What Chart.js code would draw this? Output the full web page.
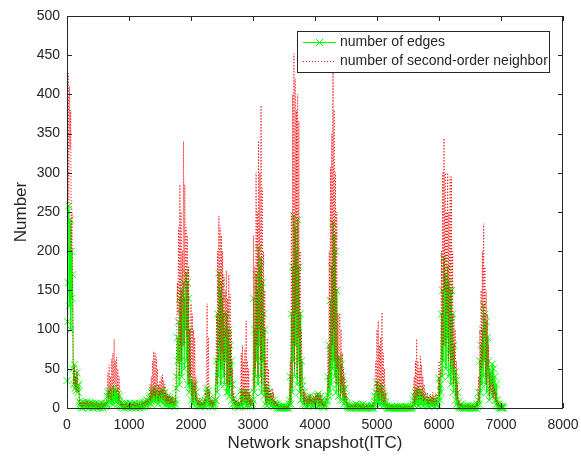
<!DOCTYPE html>
<html>
<head>
<meta charset="utf-8">
<script src="https://cdn.jsdelivr.net/npm/chart.js@4.4.0/dist/chart.umd.min.js"></script>
<style>
  html, body { margin: 0; padding: 0; background: #fff; }
  #wrap { width: 581px; height: 458px; }
</style>
</head>
<body>
<div id="wrap"><canvas id="chart" width="581" height="458"></canvas></div>
<script>
// snapshots are sampled every 10 ITC, starting at 0
const snapshotStep = 10;

// number of edges, one row per 200 snapshots
const edgeCounts = [
    35, 110, 160, 258, 130, 240, 100, 200, 140, 170, 50, 30, 55, 25, 40, 22, 45, 28, 20, 30,   // 0
    8, 3, 6, 1, 5, 0, 7, 2, 4, 6, 1, 3, 8, 2, 5, 0, 4, 7, 2, 5,                               // 200
    3, 6, 0, 4, 5, 2, 1, 6, 3, 0, 2, 5, 1, 4, 0, 3, 6, 2, 0, 4,                               // 400
    3, 5, 2, 6, 4, 15, 20, 8, 22, 12, 18, 6, 24, 10, 20, 5, 25, 12, 20, 8,                    // 600
    22, 10, 18, 5, 15, 8, 4, 2, 6, 1, 5, 3, 0, 4, 2, 6, 1, 3, 0, 2,                           // 800
    4, 1, 6, 3, 0, 5, 2, 4, 1, 6, 3, 0, 5, 2, 4, 1, 3, 6, 0, 2,                               // 1000
    3, 6, 1, 4, 7, 2, 5, 8, 3, 10, 4, 8, 6, 12, 15, 5, 20, 8, 22, 10,                         // 1200
    25, 10, 20, 8, 22, 12, 18, 5, 15, 10, 20, 8, 24, 12, 22, 6, 18, 10, 20, 5,                // 1400
    12, 3, 15, 6, 10, 2, 14, 5, 8, 3, 12, 4, 6, 2, 10, 5, 25, 40, 90, 60,                     // 1600
    110, 30, 140, 60, 150, 40, 120, 80, 160, 50, 140, 100, 172, 60, 160, 30, 140, 20, 100, 30, // 1800
    35, 10, 30, 5, 28, 12, 30, 8, 20, 5, 8, 3, 6, 2, 8, 4, 2, 6, 3, 5,                        // 2000
    3, 8, 2, 10, 5, 20, 25, 8, 22, 5, 12, 2, 6, 3, 8, 1, 5, 3, 6, 10,                         // 2200
    10, 60, 20, 120, 40, 172, 60, 150, 30, 160, 50, 140, 40, 120, 30, 100, 60, 120, 20, 90,   // 2400
    20, 100, 15, 80, 30, 60, 10, 30, 5, 12, 3, 6, 2, 8, 4, 3, 1, 6, 2, 4,                     // 2600
    5, 22, 3, 18, 10, 20, 5, 15, 8, 20, 2, 12, 5, 18, 3, 10, 2, 8, 4, 6,                      // 2800
    10, 140, 20, 100, 40, 170, 60, 150, 30, 204, 80, 180, 40, 190, 20, 160, 60, 120, 15, 100, // 3000
    5, 28, 3, 25, 8, 20, 5, 15, 10, 12, 3, 8, 5, 10, 2, 6, 3, 5, 1, 4,                        // 3200
    2, 0, 1, 0, 2, 0, 1, 0, 0, 1, 0, 2, 0, 1, 0, 0, 2, 0, 5, 10,                              // 3400
    40, 5, 120, 20, 180, 60, 245, 40, 230, 80, 200, 30, 240, 60, 180, 20, 120, 10, 60, 35,    // 3600
    28, 5, 20, 3, 12, 8, 10, 2, 8, 5, 12, 3, 15, 6, 10, 3, 8, 12, 4, 10,                      // 3800
    3, 12, 5, 15, 8, 18, 2, 12, 5, 15, 3, 10, 2, 6, 1, 4, 2, 5, 8, 10,                        // 4000
    10, 40, 15, 80, 20, 137, 30, 180, 50, 236, 60, 220, 40, 200, 20, 150, 30, 64, 15, 50,     // 4200
    64, 10, 55, 20, 40, 10, 30, 5, 25, 8, 15, 3, 6, 1, 3, 0, 2, 1, 0, 2,                      // 4400
    0, 2, 1, 0, 3, 0, 5, 1, 0, 2, 4, 0, 1, 3, 0, 2, 0, 5, 1, 0,                               // 4600
    0, 1, 0, 3, 0, 2, 1, 0, 2, 0, 1, 3, 0, 2, 0, 5, 8, 15, 20, 10,                            // 4800
    32, 8, 25, 5, 20, 10, 30, 5, 25, 8, 20, 3, 15, 5, 8, 2, 3, 0, 1, 0,                       // 5000
    0, 1, 0, 0, 2, 0, 0, 1, 0, 0, 1, 0, 2, 0, 0, 1, 0, 0, 2, 0,                               // 5200
    0, 0, 1, 0, 0, 2, 0, 0, 1, 0, 2, 0, 0, 1, 0, 0, 2, 0, 5, 10,                              // 5400
    15, 3, 20, 5, 24, 8, 20, 3, 18, 10, 22, 5, 18, 8, 15, 3, 12, 5, 10, 8,                    // 5600
    5, 10, 3, 8, 2, 6, 10, 4, 8, 3, 12, 5, 8, 2, 6, 10, 3, 5, 8, 15,                          // 5800
    38, 10, 30, 20, 120, 40, 150, 60, 191, 80, 170, 50, 160, 90, 180, 40, 160, 70, 150, 30,   // 6000
    150, 46, 120, 20, 80, 35, 46, 10, 35, 5, 20, 2, 8, 0, 3, 1, 5, 0, 2, 1,                   // 6200
    0, 1, 0, 2, 0, 1, 0, 3, 0, 1, 2, 0, 1, 0, 3, 0, 1, 0, 2, 0,                               // 6400
    0, 5, 2, 10, 20, 5, 60, 20, 80, 30, 100, 40, 131, 60, 120, 30, 110, 20, 90, 40,           // 6600
    60, 10, 50, 20, 45, 30, 56, 15, 50, 20, 40, 10, 30, 5, 10, 2, 5, 0, 3, 1,                 // 6800
    0, 2, 0, 1, 0                                                                            // 7000
];

// number of second-order neighbor, same sampling
const neighborCounts = [
    40, 300, 427, 260, 410, 330, 380, 200, 250, 150, 60, 30, 55, 25, 40, 20, 50, 30, 20, 25,
    10, 4, 8, 2, 6, 1, 9, 3, 5, 8, 2, 4, 10, 3, 6, 1, 5, 9, 3, 6,
    4, 7, 1, 5, 6, 3, 2, 8, 4, 1, 3, 6, 2, 5, 1, 4, 7, 3, 1, 5,
    4, 6, 3, 7, 5, 25, 45, 12, 55, 20, 40, 10, 62, 25, 70, 15, 88, 30, 60, 20,
    65, 20, 50, 10, 40, 15, 6, 3, 8, 2, 6, 4, 1, 5, 3, 7, 2, 4, 1, 3,
    5, 2, 7, 4, 1, 6, 3, 5, 2, 7, 4, 1, 6, 3, 5, 2, 4, 7, 1, 3,
    4, 7, 2, 5, 8, 3, 6, 9, 4, 12, 5, 10, 7, 14, 30, 8, 40, 12, 60, 15,
    72, 15, 70, 12, 65, 20, 50, 8, 30, 15, 35, 12, 40, 18, 42, 10, 35, 15, 30, 8,
    20, 5, 18, 8, 15, 4, 16, 6, 12, 5, 15, 6, 8, 3, 12, 8, 40, 90, 160, 120,
    230, 40, 285, 80, 250, 60, 200, 120, 340, 80, 285, 150, 230, 90, 220, 40, 180, 30, 100, 40,
    133, 15, 120, 8, 100, 20, 90, 10, 40, 8, 15, 4, 10, 3, 12, 6, 3, 8, 4, 6,
    5, 10, 3, 20, 8, 60, 133, 15, 90, 8, 20, 3, 10, 5, 12, 2, 8, 5, 10, 15,
    15, 120, 30, 200, 60, 245, 80, 230, 50, 220, 70, 200, 60, 170, 40, 150, 90, 175, 30, 140,
    30, 170, 25, 145, 40, 100, 15, 50, 8, 20, 5, 10, 3, 12, 6, 5, 2, 8, 3, 6,
    8, 70, 5, 80, 15, 60, 8, 75, 12, 111, 4, 60, 8, 50, 5, 20, 3, 12, 6, 10,
    12, 220, 25, 180, 50, 300, 80, 250, 40, 341, 100, 300, 60, 386, 30, 280, 90, 200, 20, 150,
    8, 60, 5, 89, 10, 50, 6, 25, 12, 22, 5, 25, 8, 20, 3, 10, 5, 8, 2, 6,
    3, 1, 2, 1, 3, 1, 2, 1, 1, 2, 1, 3, 1, 2, 1, 1, 3, 1, 8, 15,
    60, 8, 250, 25, 400, 80, 452, 50, 420, 120, 380, 40, 400, 90, 366, 30, 200, 15, 100, 50,
    35, 8, 25, 5, 20, 10, 15, 3, 12, 8, 15, 5, 19, 8, 12, 5, 10, 15, 6, 12,
    5, 19, 8, 19, 10, 19, 3, 15, 8, 19, 5, 12, 3, 8, 2, 5, 3, 6, 10, 15,
    20, 80, 25, 200, 40, 307, 60, 350, 80, 428, 100, 380, 60, 300, 30, 250, 50, 121, 20, 100,
    121, 15, 100, 30, 70, 15, 50, 8, 40, 12, 20, 5, 8, 2, 4, 1, 3, 2, 1, 3,
    1, 3, 2, 1, 4, 1, 6, 2, 1, 3, 5, 1, 2, 4, 1, 3, 1, 6, 2, 1,
    1, 2, 1, 4, 1, 3, 2, 1, 3, 1, 2, 4, 1, 3, 1, 8, 15, 40, 60, 20,
    100, 15, 111, 10, 80, 20, 90, 8, 122, 15, 70, 5, 50, 8, 20, 3, 5, 1, 2, 1,
    1, 2, 1, 1, 3, 1, 1, 2, 1, 1, 2, 1, 3, 1, 1, 2, 1, 1, 3, 1,
    1, 1, 2, 1, 1, 3, 1, 1, 2, 1, 3, 1, 1, 2, 1, 1, 3, 1, 8, 20,
    40, 5, 60, 10, 88, 15, 60, 8, 50, 20, 66, 10, 55, 15, 40, 8, 30, 10, 20, 15,
    10, 20, 6, 15, 4, 12, 18, 8, 15, 5, 20, 8, 15, 4, 10, 18, 5, 10, 15, 30,
    60, 15, 50, 40, 200, 60, 300, 80, 344, 150, 300, 80, 250, 120, 300, 60, 250, 100, 295, 50,
    295, 60, 200, 30, 120, 50, 100, 15, 60, 10, 30, 3, 12, 1, 4, 2, 6, 1, 3, 2,
    1, 2, 1, 3, 1, 2, 1, 4, 1, 2, 3, 1, 2, 1, 4, 1, 2, 1, 3, 1,
    1, 8, 3, 15, 40, 8, 100, 30, 150, 50, 200, 60, 235, 90, 180, 40, 150, 30, 120, 50,
    80, 15, 45, 25, 30, 20, 40, 10, 30, 15, 25, 8, 20, 5, 8, 3, 6, 1, 4, 2,
    1, 3, 1, 2, 1
];

const seriesNames = ['number of edges', 'number of second-order neighbor'];
const xTickValues = [0, 1000, 2000, 3000, 4000, 5000, 6000, 7000, 8000];
const yTickValues = [0, 50, 100, 150, 200, 250, 300, 350, 400, 450, 500];

const axisColor = '#262626';
const fontFamily = 'Liberation Sans, Arial, Helvetica, sans-serif';

const edgePoints = edgeCounts.map((v, i) => ({ x: i * snapshotStep, y: v }));
const neighborPoints = neighborCounts.map((v, i) => ({ x: i * snapshotStep, y: v }));

// MATLAB-like box, inward ticks on all four sides and the legend inside the axes
const matlabFrame = {
    id: 'matlabFrame',
    afterDraw(chart) {
        const ctx = chart.ctx;
        const a = chart.chartArea;
        const xs = chart.scales.x;
        const ys = chart.scales.y;
        const tick = 5;
        ctx.save();
        ctx.strokeStyle = axisColor;
        ctx.lineWidth = 1;
        ctx.strokeRect(a.left + 0.5, a.top + 0.5, a.right - a.left - 1, a.bottom - a.top);
        ctx.beginPath();
        xTickValues.forEach(v => {
            const px = Math.round(xs.getPixelForValue(v)) + 0.5;
            ctx.moveTo(px, a.bottom); ctx.lineTo(px, a.bottom - tick);
            ctx.moveTo(px, a.top); ctx.lineTo(px, a.top + tick);
        });
        yTickValues.forEach(v => {
            const py = Math.round(ys.getPixelForValue(v)) + 0.5;
            ctx.moveTo(a.left, py); ctx.lineTo(a.left + tick, py);
            ctx.moveTo(a.right, py); ctx.lineTo(a.right - tick, py);
        });
        ctx.stroke();

        // legend box
        const bx = 297.5, by = 31.5, bw = 252, bh = 41;
        ctx.fillStyle = '#fff';
        ctx.fillRect(bx, by, bw, bh);
        ctx.strokeStyle = axisColor;
        ctx.strokeRect(bx, by, bw, bh);

        const row1 = 42, row2 = 61;
        ctx.strokeStyle = '#00ff00';
        ctx.beginPath();
        ctx.moveTo(303, row1 + 0.5); ctx.lineTo(336, row1 + 0.5);
        ctx.moveTo(316, row1 - 3); ctx.lineTo(323, row1 + 4);
        ctx.moveTo(316, row1 + 4); ctx.lineTo(323, row1 - 3);
        ctx.stroke();
        ctx.strokeStyle = '#ff0000';
        ctx.setLineDash([1, 2]);
        ctx.beginPath();
        ctx.moveTo(303, row2 + 0.5); ctx.lineTo(336, row2 + 0.5);
        ctx.stroke();
        ctx.setLineDash([]);

        ctx.fillStyle = axisColor;
        ctx.font = '14px ' + fontFamily;
        ctx.textBaseline = 'middle';
        ctx.textAlign = 'left';
        ctx.fillText(seriesNames[0], 340, row1);
        ctx.fillText(seriesNames[1], 340, row2);
        ctx.restore();
    }
};

new Chart(document.getElementById('chart'), {
    type: 'line',
    data: {
        datasets: [
            {
                label: seriesNames[1],
                data: neighborPoints,
                borderColor: '#ff0000',
                borderWidth: 1,
                borderDash: [1, 2],
                pointRadius: 0,
                tension: 0
            },
            {
                label: seriesNames[0],
                data: edgePoints,
                borderColor: '#00ff00',
                borderWidth: 1,
                pointStyle: 'crossRot',
                pointRadius: 5,
                pointBorderColor: '#00ff00',
                pointBorderWidth: 1,
                clip: 6,
                tension: 0
            }
        ]
    },
    options: {
        responsive: false,
        animation: false,
        events: [],
        layout: { padding: { top: 16, right: 18, left: 0, bottom: 0 } },
        plugins: {
            legend: { display: false },
            tooltip: { enabled: false }
        },
        scales: {
            x: {
                type: 'linear',
                min: 0,
                max: 8000,
                afterFit: s => { s.height = 50; s.paddingLeft = 0; s.paddingRight = 0; },
                afterBuildTicks: s => { s.ticks = xTickValues.map(v => ({ value: v })); },
                grid: { display: false, drawTicks: false },
                border: { display: false },
                ticks: {
                    color: axisColor,
                    padding: 9,
                    maxRotation: 0,
                    font: { family: fontFamily, size: 14 },
                    callback: v => String(v)
                },
                title: {
                    display: true,
                    text: 'Network snapshot(ITC)',
                    color: axisColor,
                    padding: { top: 2, bottom: 4 },
                    font: { family: fontFamily, size: 17 }
                }
            },
            y: {
                min: 0,
                max: 500,
                afterFit: s => { s.width = 67; },
                afterBuildTicks: s => { s.ticks = yTickValues.map(v => ({ value: v })); },
                grid: { display: false, drawTicks: false },
                border: { display: false },
                ticks: {
                    color: axisColor,
                    padding: 7,
                    font: { family: fontFamily, size: 14 },
                    callback: v => String(v)
                },
                title: {
                    display: true,
                    text: 'Number',
                    color: axisColor,
                    padding: { top: 11, bottom: 4 },
                    font: { family: fontFamily, size: 17 }
                }
            }
        }
    },
    plugins: [matlabFrame]
});
</script>
</body>
</html>
